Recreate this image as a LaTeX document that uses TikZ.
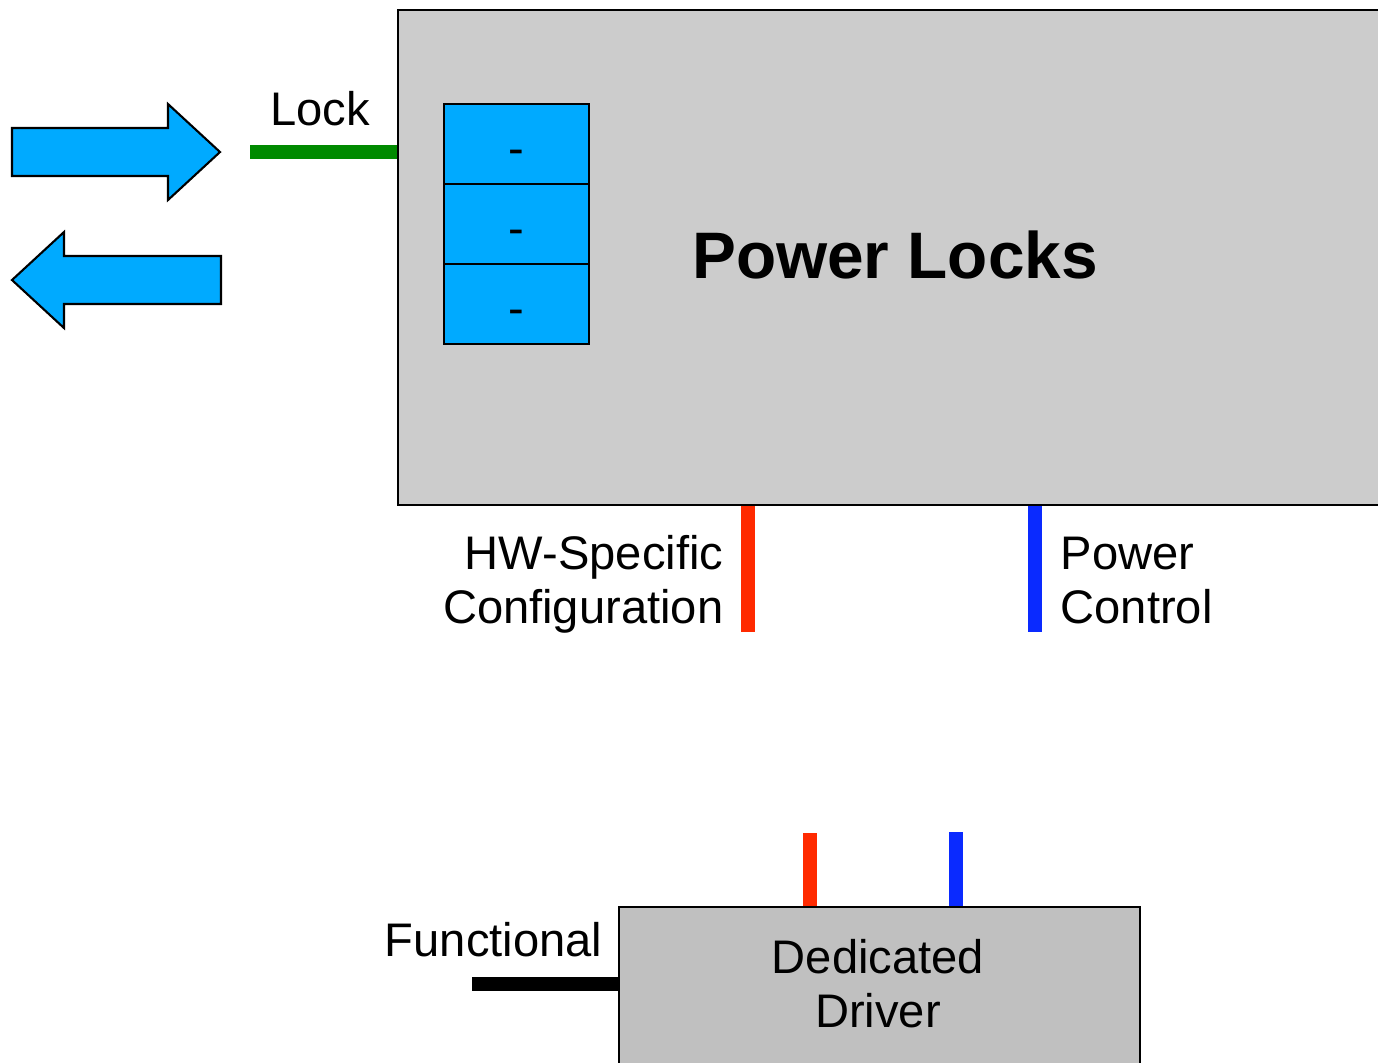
\documentclass[tikz,border=0pt]{standalone}
\usepackage{fontspec}
\setmainfont{Liberation Sans}
\usetikzlibrary{positioning, calc}
\definecolor{panelgray}{RGB}{204,204,204}
\definecolor{drivergray}{RGB}{192,192,192}
\definecolor{cellblue}{RGB}{0,170,255}
\definecolor{lockgreen}{RGB}{0,138,0}
\definecolor{cfgred}{RGB}{255,42,0}
\definecolor{pwrblue}{RGB}{10,42,255}
\tikzset{
  txt/.style={inner sep=0pt, font=\fontsize{13.4}{15.2}\selectfont},
  cellbox/.style={draw, fill=cellblue, line width=0.6pt, minimum width=1.45cm, minimum height=0.8cm,
    inner sep=0pt, text height=0.4cm, text depth=0pt, font=\fontsize{13.4}{15.2}\selectfont},
  wire/.style={line width=0.14cm},
  bigarrow/.style={draw, fill=cellblue, line width=0.6pt}
}

\begin{document}
\begin{tikzpicture}[x=0.01cm, y=-0.01cm]
  \useasboundingbox (0,0) rectangle (1378,1062);
  \clip (0,0) rectangle (1378,1062);
  % component
  \node[draw, fill=panelgray, line width=0.6pt, anchor=north west, minimum width=10.2cm, minimum height=4.95cm] (locks) at (397,9) {};
  \node[font=\fontsize{18.7}{22}\selectfont\bfseries] (title) at (895,255) {Power Locks};
  \foreach \i in {1,2,3}
    \node[cellbox] (cell\i) at (516.5,{64+80*\i}) {-};
  % in / out
  \draw[bigarrow] (12,128) -- (168,128) -- (168,104) -- (220,152) -- (168,200) -- (168,176) -- (12,176) -- cycle;
  \draw[bigarrow] (221,256) -- (64,256) -- (64,232) -- (12,280) -- (64,328) -- (64,304) -- (221,304) -- cycle;
  \coordinate (lockin) at (250,152);
  \draw[wire, lockgreen] (lockin) -- (lockin -| locks.west);
  \node[txt, anchor=base] (locklabel) at (320,125) {Lock};
  \coordinate (cfgout) at (748,632);
  \draw[wire, cfgred] (locks.south -| cfgout) -- (cfgout);
  \node[txt, align=right, anchor=base east] (cfglabel) at (724,623) {HW-Specific\\Configuration};
  \coordinate (pwrout) at (1035,632);
  \draw[wire, pwrblue] (locks.south -| pwrout) -- (pwrout);
  \node[txt, align=left, anchor=base west] (pwrlabel) at (1060,623) {Power\\Control};
  % driver
  \node[draw, fill=drivergray, line width=0.6pt, anchor=north west, minimum width=5.21cm, minimum height=2cm] (driver) at (618,906) {};
  \node[txt, align=center, anchor=base] (drvlabel) at (878,1027) {Dedicated\\Driver};
  \coordinate (cfgin) at (810,833);
  \draw[wire, cfgred] (driver.north -| cfgin) -- (cfgin);
  \coordinate (pwrin) at (956,832);
  \draw[wire, pwrblue] (driver.north -| pwrin) -- (pwrin);
  \coordinate (funcin) at (472,984);
  \draw[wire, black] (funcin) -- (funcin -| driver.west);
  \node[txt, anchor=base east] (funclabel) at (603,956) {Functional};
\end{tikzpicture}
\end{document}
